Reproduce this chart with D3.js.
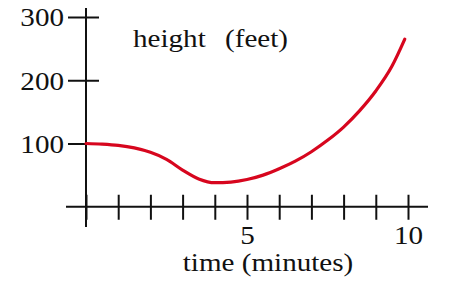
<!DOCTYPE html>
<html>
<head>
<meta charset="utf-8">
<script src="https://cdn.jsdelivr.net/npm/d3@7"></script>
<style>
  html, body { margin: 0; padding: 0; background: #fff; }
  svg { display: block; }
  text { font-family: "Liberation Serif", "Times New Roman", serif; fill: #111; }
</style>
</head>
<body>
<svg id="chart" width="453" height="288"></svg>
<script>
// Data
const timeMinutes = [0, 0.5, 1, 1.5, 2, 2.5, 3, 3.5, 4, 4.5, 5, 5.5, 6, 6.5, 7, 7.5, 8, 8.5, 9, 9.5, 9.9];
const heightFeet  = [100, 99, 97, 93, 86, 75, 58, 44, 38, 39, 43, 50, 60, 72, 87, 105, 126, 152, 183, 222, 265];
const xTicks = [0, 1, 2, 3, 4, 5, 6, 7, 8, 9, 10];
const xTickLabels = { 5: "5", 10: "10" };
const yTicks = [100, 200, 300];
const yLabelParts = ["height", "(feet)"];
const xLabel = "time (minutes)";

const FS = "26px";
const SX = 1.12;

const svg = d3.select("#chart");
const x = d3.scaleLinear().domain([0, 10]).range([86, 408]);
const y = d3.scaleLinear().domain([0, 300]).range([206.75, 17]);

// Axis lines
const axisColor = "#111";
svg.append("line").attr("x1", x(0)).attr("x2", x(0)).attr("y1", 8).attr("y2", 227)
  .attr("stroke", axisColor).attr("stroke-width", 2);
svg.append("line").attr("x1", 66).attr("x2", 428).attr("y1", y(0)).attr("y2", y(0))
  .attr("stroke", axisColor).attr("stroke-width", 2);

// X axis via d3.axisBottom, ticks crossing the axis
const xAxis = d3.axisBottom(x).tickValues(xTicks)
  .tickFormat(d => xTickLabels[d] || "").tickSizeOuter(0);
const gx = svg.append("g").attr("transform", `translate(0,${y(0)})`).call(xAxis);
gx.select(".domain").remove();
gx.selectAll(".tick line").attr("y1", -12).attr("y2", 13)
  .attr("stroke", axisColor).attr("stroke-width", 2);
gx.selectAll(".tick text").attr("y", 0).attr("dy", 0)
  .attr("transform", `translate(0,37) scale(${SX},1)`)
  .style("font-family", "'Liberation Serif', serif").style("font-size", FS).attr("fill", "#111");

// Y axis via d3.axisLeft
const yAxis = d3.axisLeft(y).tickValues(yTicks).tickFormat(d3.format("d")).tickSizeOuter(0);
const gy = svg.append("g").attr("transform", `translate(${x(0)},0)`).call(yAxis);
gy.select(".domain").remove();
gy.selectAll(".tick line").attr("x1", -18).attr("x2", 13)
  .attr("stroke", axisColor).attr("stroke-width", 2);
gy.selectAll(".tick text").attr("x", 0).attr("dy", "0.34em")
  .attr("transform", `translate(-22,0) scale(${SX},1)`)
  .style("font-family", "'Liberation Serif', serif").style("font-size", FS).attr("fill", "#111");

// Curve
const line = d3.line().x((d, i) => x(timeMinutes[i])).y(d => y(d)).curve(d3.curveMonotoneX);
svg.append("path").datum(heightFeet).attr("d", line)
  .attr("fill", "none").attr("stroke", "#d7061e").attr("stroke-width", 3.2)
  .attr("stroke-linecap", "round");

// Labels
svg.append("text").attr("transform", `translate(133,47) scale(${SX},1)`)
  .style("font-size", FS).text(yLabelParts[0]);
svg.append("text").attr("transform", `translate(225,47) scale(${SX},1)`)
  .style("font-size", FS).text(yLabelParts[1]);
svg.append("text").attr("transform", `translate(268,271) scale(${SX},1)`).attr("text-anchor", "middle")
  .style("font-size", FS).text(xLabel);
</script>
</body>
</html>
